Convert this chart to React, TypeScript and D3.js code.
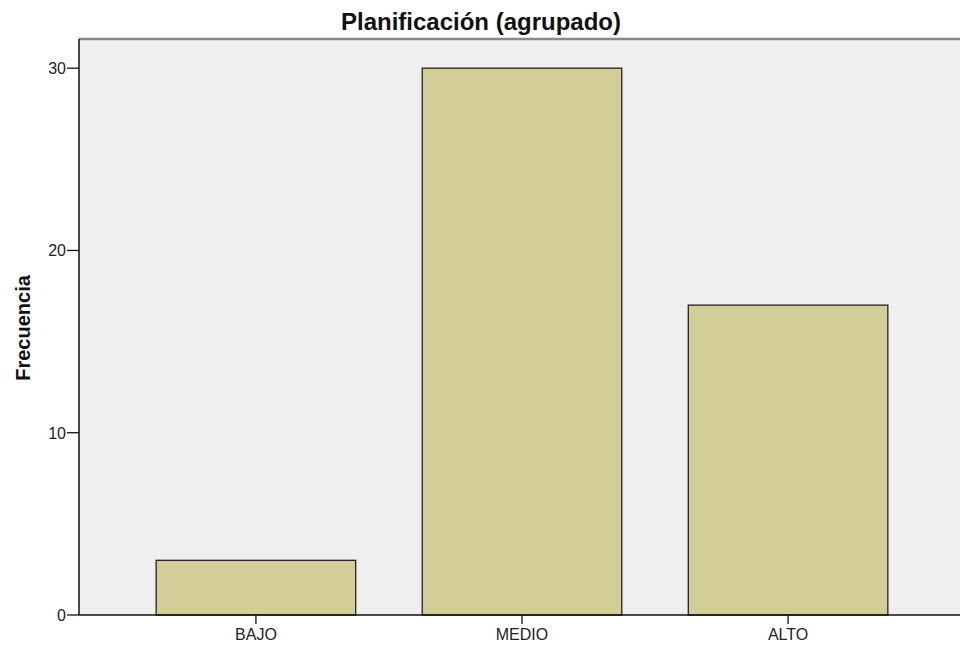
import React from "react";
import * as d3 from "d3";

const categories = ["BAJO", "MEDIO", "ALTO"];
const values = [3, 30, 17];
const yTicks = [0, 10, 20, 30];
const title = "Planificación (agrupado)";
const yLabel = "Frecuencia";

export default function App() {
  const W = 960, H = 647;
  const left = 79, right = 965, top = 39, bottom = 615;
  const x = d3.scaleBand<string>().domain(categories).range([left, right]).paddingInner(0.25).paddingOuter(0.29);
  const y = d3.scaleLinear().domain([0, 31.6]).range([bottom, top]);
  const font = "'Liberation Sans', Arial, sans-serif";
  return (
    <div style={{ position: "absolute", left: 0, top: 0 }}>
      <svg width={W} height={H} style={{ display: "block", background: "#fff" }} fontFamily={font}>
        <rect x={left} y={top} width={right - left} height={bottom - top} fill="#EFEFEF" />
        <line x1={left} x2={right} y1={top} y2={top} stroke="#888" strokeWidth={2.5} />
        {categories.map((c, i) => (
          <rect key={c} x={x(c)} y={y(values[i])} width={x.bandwidth()} height={y(0) - y(values[i])}
            fill="#D3CE97" stroke="#222" strokeWidth={1.3} />
        ))}
        <line x1={left} x2={left} y1={top} y2={bottom} stroke="#111" strokeWidth={1.5} />
        <line x1={left} x2={right} y1={bottom} y2={bottom} stroke="#111" strokeWidth={1.5} />
        {yTicks.map(t => (
          <g key={t}>
            <line x1={left - 12} x2={left} y1={y(t)} y2={y(t)} stroke="#111" strokeWidth={1.3} />
            <text x={left - 13} y={y(t)} dy="0.37em" textAnchor="end" fontSize={16} fill="#222">{t}</text>
          </g>
        ))}
        {categories.map(c => (
          <g key={c}>
            <line x1={x(c)! + x.bandwidth() / 2} x2={x(c)! + x.bandwidth() / 2} y1={bottom} y2={bottom + 9} stroke="#111" strokeWidth={1.3} />
            <text x={x(c)! + x.bandwidth() / 2} y={bottom + 25} textAnchor="middle" fontSize={16} fill="#222">{c}</text>
          </g>
        ))}
        <text x={481} y={30} textAnchor="middle" fontSize={24} fontWeight="bold" fill="#111">{title}</text>
        <text transform={`translate(30,${328}) rotate(-90)`} textAnchor="middle" fontSize={20} fontWeight="bold" fill="#111">{yLabel}</text>
      </svg>
    </div>
  );
}
